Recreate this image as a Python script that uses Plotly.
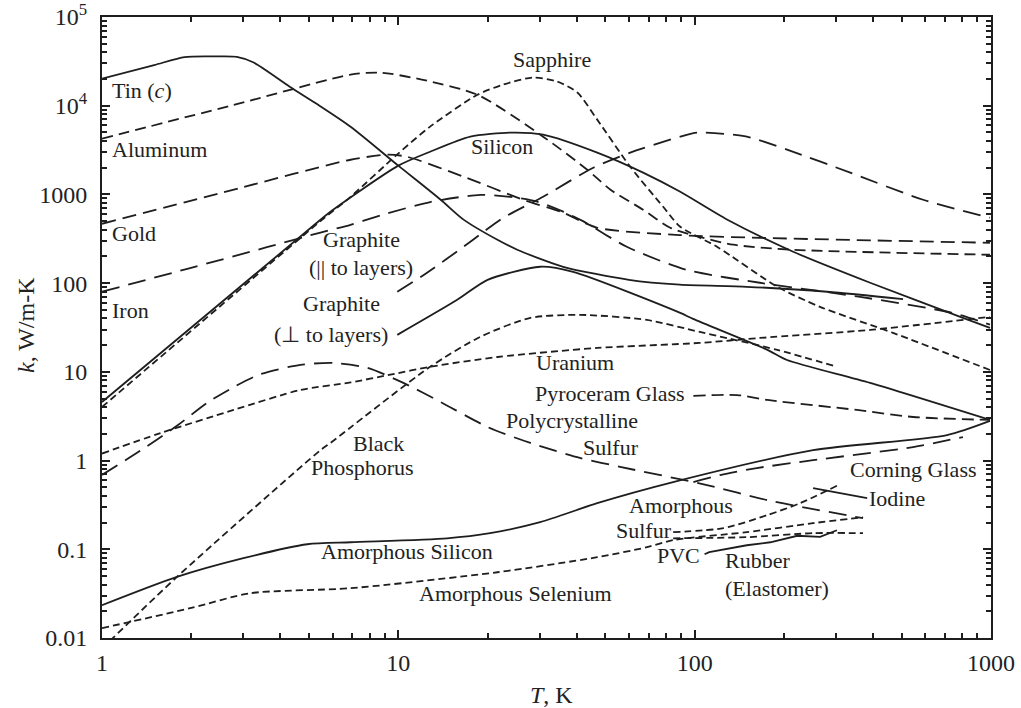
import numpy as np
import plotly.graph_objects as go

# ---- thermal conductivity data: temperature T (K), conductivity k (W/m-K) ----
tin_T = [1, 1.5, 1.9, 2.4, 2.85, 3.25, 4.3, 5.3, 6.9, 10, 13.9, 16.6, 21.6, 25.2, 36, 60, 89, 150, 280, 505]
tin_k = [20200, 28700, 35300, 35900, 35500, 30700, 16400, 10500, 5800, 2110, 870, 520, 308, 238, 153, 109, 96, 91, 80, 66]

aluminum_T = [1, 3, 6.9, 8.7, 12, 18.5, 30.8, 43.4, 52, 67, 82.7, 107, 135, 215, 992]
aluminum_k = [4250, 10900, 22400, 23600, 19700, 13300, 4480, 1900, 1130, 672, 421, 324, 271, 238, 209]

gold_T = [1, 3, 6.9, 9.2, 10.7, 16.6, 26.4, 36, 46.9, 89, 166, 992]
gold_k = [467, 1210, 2460, 2810, 2660, 1585, 871, 622, 421, 348, 324, 285]

iron_T = [1, 1.94, 3.6, 5.46, 6.9, 8.7, 12.8, 18.9, 24.4, 29.4, 36, 42, 59, 94, 166, 362, 745, 992]
iron_k = [80, 145, 254, 372, 455, 580, 820, 990, 930, 830, 640, 500, 257, 141, 101, 70, 46, 34]

silicon_T = [1, 5.46, 5.9, 10, 12.8, 17.5, 23.9, 30.8, 46.9, 67, 89.4, 129, 215, 391, 804, 992]
silicon_k = [4.57, 518, 638, 2110, 3030, 4480, 4970, 4720, 2960, 1760, 1070, 518, 226, 101, 40.6, 31.3]

sapphire_T = [1, 5.46, 6.9, 9.9, 12.8, 18.5, 22.6, 28.5, 34.4, 40.2, 46.9, 60.6, 78.3, 89.4, 119, 190, 265, 467, 992]
sapphire_k = [4.02, 500, 940, 2810, 5810, 13300, 17300, 20800, 18700, 14100, 6970, 2050, 726, 432, 257, 91, 54, 27.5, 10.5]

graphite_par_T = [9.92, 12.5, 16.6, 19.4, 22.6, 30.8, 45.5, 60.6, 89.4, 102, 150, 205, 335, 590, 992]
graphite_par_k = [79.8, 131, 257, 379, 546, 942, 2000, 2960, 4480, 4970, 4480, 3200, 1760, 871, 546]

graphite_perp_T = [9.92, 15.8, 20, 30.1, 38.9, 89.4, 98.8, 176, 205, 391, 992]
graphite_perp_k = [26.1, 64.8, 109, 153, 134, 46.2, 39.5, 17.7, 13.6, 7.5, 2.87]

black_p_T = [1, 1.79, 5.46, 5.9, 12.8, 18.9, 27.9, 41, 69, 104, 190, 302]
black_p_k = [0.0076, 0.0488, 1.31, 1.58, 11.4, 24.8, 40.6, 43.9, 38.5, 28.2, 17.7, 11.4]

uranium_T = [1, 1.575, 2.78, 4.67, 6.9, 9.4, 12.8, 21.6, 46.9, 104, 166, 391, 992]
uranium_k = [1.2, 2.04, 3.72, 6.25, 7.6, 9.3, 11.4, 14.7, 18.6, 21.2, 24.1, 29.7, 41.7]

pyroceram_T = [99, 139, 176, 353, 546, 992]
pyroceram_k = [5.35, 5.48, 4.82, 3.72, 3.10, 2.87]

poly_sulfur_T = [1, 1.35, 1.8, 2.27, 2.8, 3.42, 4.67, 6.04, 7.86, 10.4, 13.9, 20, 27.9, 41, 56, 110, 176, 370]
poly_sulfur_k = [0.69, 1.3, 2.5, 4.5, 6.8, 9.4, 12.0, 12.6, 11.1, 7.5, 4.57, 2.39, 1.58, 1.07, 0.85, 0.53, 0.358, 0.224]

corning_T = [99, 122, 162, 251, 546, 804]
corning_k = [0.572, 0.686, 0.823, 1.01, 1.42, 1.84]

am_silicon_T = [1, 1.79, 3.0, 4.93, 6.9, 14.6, 20.4, 30.1, 46.9, 84.6, 251, 711, 992]
am_silicon_k = [0.0234, 0.0488, 0.0793, 0.114, 0.120, 0.133, 0.152, 0.202, 0.331, 0.572, 1.31, 1.94, 2.8]

am_selenium_T = [1, 2, 3.17, 6.9, 21.6, 46.9, 69, 84.6, 150, 251, 370]
am_selenium_k = [0.0129, 0.0218, 0.032, 0.0364, 0.0551, 0.0814, 0.1056, 0.127, 0.156, 0.197, 0.230]

pvc_T = [84.6, 150, 251, 370]
pvc_k = [0.133, 0.137, 0.152, 0.152]

am_sulfur_T = [84.6, 125, 176, 227, 302]
am_sulfur_k = [0.156, 0.173, 0.243, 0.331, 0.52]

rubber_T = [108, 112, 150, 180, 222, 250, 265, 302]
rubber_k = [0.088, 0.093, 0.111, 0.120, 0.142, 0.138, 0.138, 0.164]

iodine_T = [251, 382]
iodine_k = [0.489, 0.377]

# ---- line styles ----
INK = "#1e1e1e"
SOLID = "solid"
SHORT = "7px,4px"
MEDIUM = "11px,6px"
GOLDDASH = "14px,7px"
LONG = "18px,9px"

series = [
    ("Tin (c)", tin_T, tin_k, SOLID, True),
    ("Aluminum", aluminum_T, aluminum_k, MEDIUM, True),
    ("Gold", gold_T, gold_k, GOLDDASH, True),
    ("Iron", iron_T, iron_k, LONG, True),
    ("Silicon", silicon_T, silicon_k, SOLID, True),
    ("Sapphire", sapphire_T, sapphire_k, SHORT, True),
    ("Graphite (|| to layers)", graphite_par_T, graphite_par_k, LONG, True),
    ("Graphite (perp. to layers)", graphite_perp_T, graphite_perp_k, SOLID, True),
    ("Black Phosphorus", black_p_T, black_p_k, SHORT, True),
    ("Uranium", uranium_T, uranium_k, SHORT, True),
    ("Pyroceram Glass", pyroceram_T, pyroceram_k, "12px,6px", True),
    ("Polycrystalline Sulfur", poly_sulfur_T, poly_sulfur_k, LONG, True),
    ("Corning Glass", corning_T, corning_k, LONG, True),
    ("Amorphous Silicon", am_silicon_T, am_silicon_k, SOLID, True),
    ("Amorphous Selenium", am_selenium_T, am_selenium_k, SHORT, True),
    ("PVC", pvc_T, pvc_k, SHORT, True),
    ("Amorphous Sulfur", am_sulfur_T, am_sulfur_k, SHORT, True),
    ("Rubber (Elastomer)", rubber_T, rubber_k, SOLID, False),
    ("Iodine", iodine_T, iodine_k, SOLID, False),
]

fig = go.Figure()
for name, T, k, dash, smooth in series:
    fig.add_trace(go.Scatter(
        x=T, y=k, mode="lines", name=name,
        line=dict(color=INK, width=1.8, dash=dash,
                  shape="spline" if smooth else "linear", smoothing=0.7),
        hoverinfo="name+x+y",
    ))

# ---- curve labels: (text, T, k, anchor) ----
labels = [
    ("Tin (<i>c</i>)", 1.068, 1.41e4, "left"),
    ("Aluminum", 1.068, 3030, "left"),
    ("Gold", 1.068, 342, "left"),
    ("Iron", 1.068, 46.2, "left"),
    ("Sapphire", 33.0, 31500, "center"),
    ("Silicon", 22.3, 3280, "center"),
    ("Graphite", 7.50, 293, "center"),
    ("(|| to layers)", 7.47, 141, "center"),
    ("Graphite", 6.42, 55.4, "center"),
    ("(\u22a5 to layers)", 5.94, 24.8, "center"),
    ("Uranium", 39.5, 12.0, "center"),
    ("Pyroceram Glass", 51.9, 5.35, "center"),
    ("Polycrystalline", 38.5, 2.72, "center"),
    ("Sulfur", 52.1, 1.35, "center"),
    ("Black", 8.56, 1.496, "center"),
    ("Phosphorus", 7.59, 0.80, "center"),
    ("Amorphous Silicon", 10.7, 0.0904, "center"),
    ("Amorphous Selenium", 24.9, 0.0303, "center"),
    ("Amorphous", 89.7, 0.2986, "center"),
    ("Sulfur", 67.3, 0.156, "center"),
    ("PVC", 88.3, 0.0815, "center"),
    ("Rubber", 124.8, 0.0715, "left"),
    ("(Elastomer)", 124.8, 0.0345, "left"),
    ("Corning Glass", 546, 0.761, "center"),
    ("Iodine", 480, 0.358, "center"),
]

LABEL_FONT = dict(family="Liberation Serif, Times New Roman, serif", size=22, color="#222")
for text, T, k, anchor in labels:
    fig.add_annotation(
        x=np.log10(T), y=np.log10(k), xref="x", yref="y",
        text=text, showarrow=False, xanchor=anchor, yanchor="middle",
        yshift=2, font=LABEL_FONT,
    )

# axis titles
TITLE_FONT = dict(family="Liberation Serif, Times New Roman, serif", size=24, color="#222")
fig.add_annotation(x=0.506, y=-0.092, xref="paper", yref="paper",
                   text="<i>T</i>, K", showarrow=False,
                   xanchor="center", yanchor="middle", font=TITLE_FONT)
fig.add_annotation(x=-0.0855, y=0.504, xref="paper", yref="paper",
                   text="<i>k</i>, W/m-K", showarrow=False, textangle=-90,
                   xanchor="center", yanchor="middle", font=TITLE_FONT)

# ---- axes: inward decade ticks plus 2..9 minor ticks on all four sides ----
x_major = [1, 10, 100, 1000]
x_major_text = ["1", "10", "100", "1000"]

y_major = [0.01, 0.1, 1, 10, 100, 1000, 1e4, 1e5]
y_major_text = ["0.01", "0.1", "1", "10", "100", "1000", "10<sup>4</sup>", "10<sup>5</sup>"]

TICK_FONT = dict(family="Liberation Serif, Times New Roman, serif", size=24, color="#222")
MINOR = dict(dtick="D1", ticks="inside", ticklen=5, tickwidth=1.6,
             tickcolor=INK, showgrid=False)
common = dict(
    type="log", showgrid=False, zeroline=False, automargin=False,
    showline=True, linecolor=INK, linewidth=2, mirror="allticks",
    ticks="inside", tickcolor=INK, tickwidth=1.6, ticklen=8,
    tickfont=TICK_FONT, minor=MINOR,
)

fig.update_xaxes(range=[0, 3], tickvals=x_major, ticktext=x_major_text,
                 ticklabelstandoff=2, **common)
fig.update_yaxes(range=[-2, 5], tickvals=y_major, ticktext=y_major_text,
                 ticklabelstandoff=8, **common)

fig.update_layout(
    width=1021, height=708,
    margin=dict(l=102, r=30, t=17, b=70),
    paper_bgcolor="white", plot_bgcolor="white",
    showlegend=False,
)

fig.write_html("out.html")
